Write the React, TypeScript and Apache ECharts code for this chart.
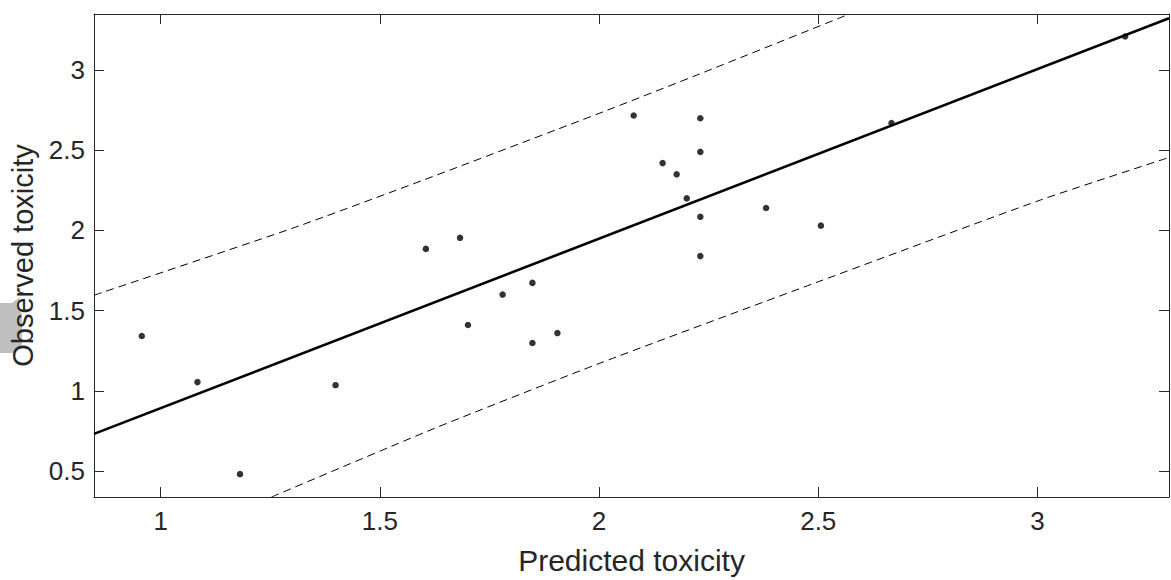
import React, { useEffect, useRef } from "react";
import * as echarts from "echarts";

// Observed vs predicted toxicity points
const predicted = [0.957, 1.084, 1.181, 1.399, 1.605, 1.683, 1.701, 1.78, 1.848, 1.848, 1.905, 2.079, 2.145, 2.177, 2.2, 2.231, 2.231, 2.231, 2.231, 2.381, 2.506, 2.667, 3.2];
const observed = [1.342, 1.054, 0.48, 1.035, 1.885, 1.954, 1.41, 1.6, 1.673, 1.298, 1.36, 2.717, 2.42, 2.35, 2.2, 2.7, 2.49, 2.085, 1.84, 2.14, 2.03, 2.67, 3.21];

// Fitted line (two read endpoints)
const fitX = [0.848, 3.3];
const fitY = [0.731, 3.323];

// Prediction band curves
const upperX = [0.848, 1.302, 1.6, 2.0, 2.24, 2.571];
const upperY = [1.596, 2.015, 2.315, 2.73, 2.9875, 3.35];
const lowerX = [1.253, 1.624, 2.0, 2.5, 3.007, 3.3];
const lowerY = [0.3375, 0.765, 1.17, 1.68, 2.19, 2.455];

const xTicks = [1, 1.5, 2, 2.5, 3];
const yTicks = [0.5, 1, 1.5, 2, 2.5, 3];

const zip = (a: number[], b: number[]) => a.map((v, i) => [v, b[i]]);

export default function App() {
  const ref = useRef<HTMLDivElement>(null);
  useEffect(() => {
    document.body.style.margin = "0";
    const chart = echarts.init(ref.current!, null, { renderer: "svg" });
    const axisColor = "#262626";
    const font = "'Liberation Sans', Arial, Helvetica, sans-serif";
    const baseAxis = {
      type: "value" as const,
      axisLine: { show: true, lineStyle: { color: axisColor, width: 1 } },
      axisTick: { show: true, inside: true, length: 10, lineStyle: { color: axisColor, width: 1 } },
      splitLine: { show: false },
    };
    chart.setOption({
      animation: false,
      backgroundColor: "#ffffff",
      grid: { left: 88, right: 2, top: 14, bottom: 83, containLabel: false },
      xAxis: [
        {
          ...baseAxis,
          min: 0.848,
          max: 3.3,
          position: "bottom",
          axisTick: { ...baseAxis.axisTick, customValues: xTicks },
          axisLabel: { customValues: xTicks, color: axisColor, fontSize: 26, fontFamily: font, margin: 11 },
          name: "Predicted toxicity",
          nameLocation: "middle",
          nameGap: 48,
          nameTextStyle: { color: axisColor, fontSize: 30, fontFamily: font },
        },
        {
          ...baseAxis,
          min: 0.848,
          max: 3.3,
          position: "top",
          axisTick: { ...baseAxis.axisTick, customValues: xTicks },
          axisLabel: { show: false },
        },
      ],
      yAxis: [
        {
          ...baseAxis,
          min: 0.3375,
          max: 3.35,
          position: "left",
          axisTick: { ...baseAxis.axisTick, customValues: yTicks },
          axisLabel: { customValues: yTicks, color: axisColor, fontSize: 26, fontFamily: font, margin: 9 },
          name: "Observed toxicity",
          nameLocation: "middle",
          nameGap: 57,
          nameRotate: 90,
          nameTextStyle: { color: axisColor, fontSize: 29, fontFamily: font },
        },
        {
          ...baseAxis,
          min: 0.3375,
          max: 3.35,
          position: "right",
          axisTick: { ...baseAxis.axisTick, customValues: yTicks },
          axisLabel: { show: false },
        },
      ],
      graphic: [
        {
          type: "polygon",
          z: -10,
          shape: {
            points: [[0, 303], [12, 303], [20, 297], [18, 307], [22, 314], [22, 344], [19, 350], [13, 353], [0, 353]],
          },
          style: { fill: "#bfbfbf" },
        },
      ],
      series: [
        {
          type: "line",
          data: zip(fitX, fitY),
          showSymbol: false,
          lineStyle: { color: "#000", width: 2.6 },
          clip: true,
        },
        {
          type: "line",
          data: zip(upperX, upperY),
          smooth: 0.2,
          showSymbol: false,
          lineStyle: { color: "#000", width: 1, type: [8, 5] },
          clip: true,
        },
        {
          type: "line",
          data: zip(lowerX, lowerY),
          smooth: 0.2,
          showSymbol: false,
          lineStyle: { color: "#000", width: 1, type: [8, 5] },
          clip: true,
        },
        {
          type: "scatter",
          data: zip(predicted, observed),
          symbol: "circle",
          symbolSize: 6.5,
          itemStyle: { color: "#000" },
        },
      ],
    });
    return () => chart.dispose();
  }, []);
  return <div ref={ref} style={{ width: 1171, height: 580 }} />;
}
